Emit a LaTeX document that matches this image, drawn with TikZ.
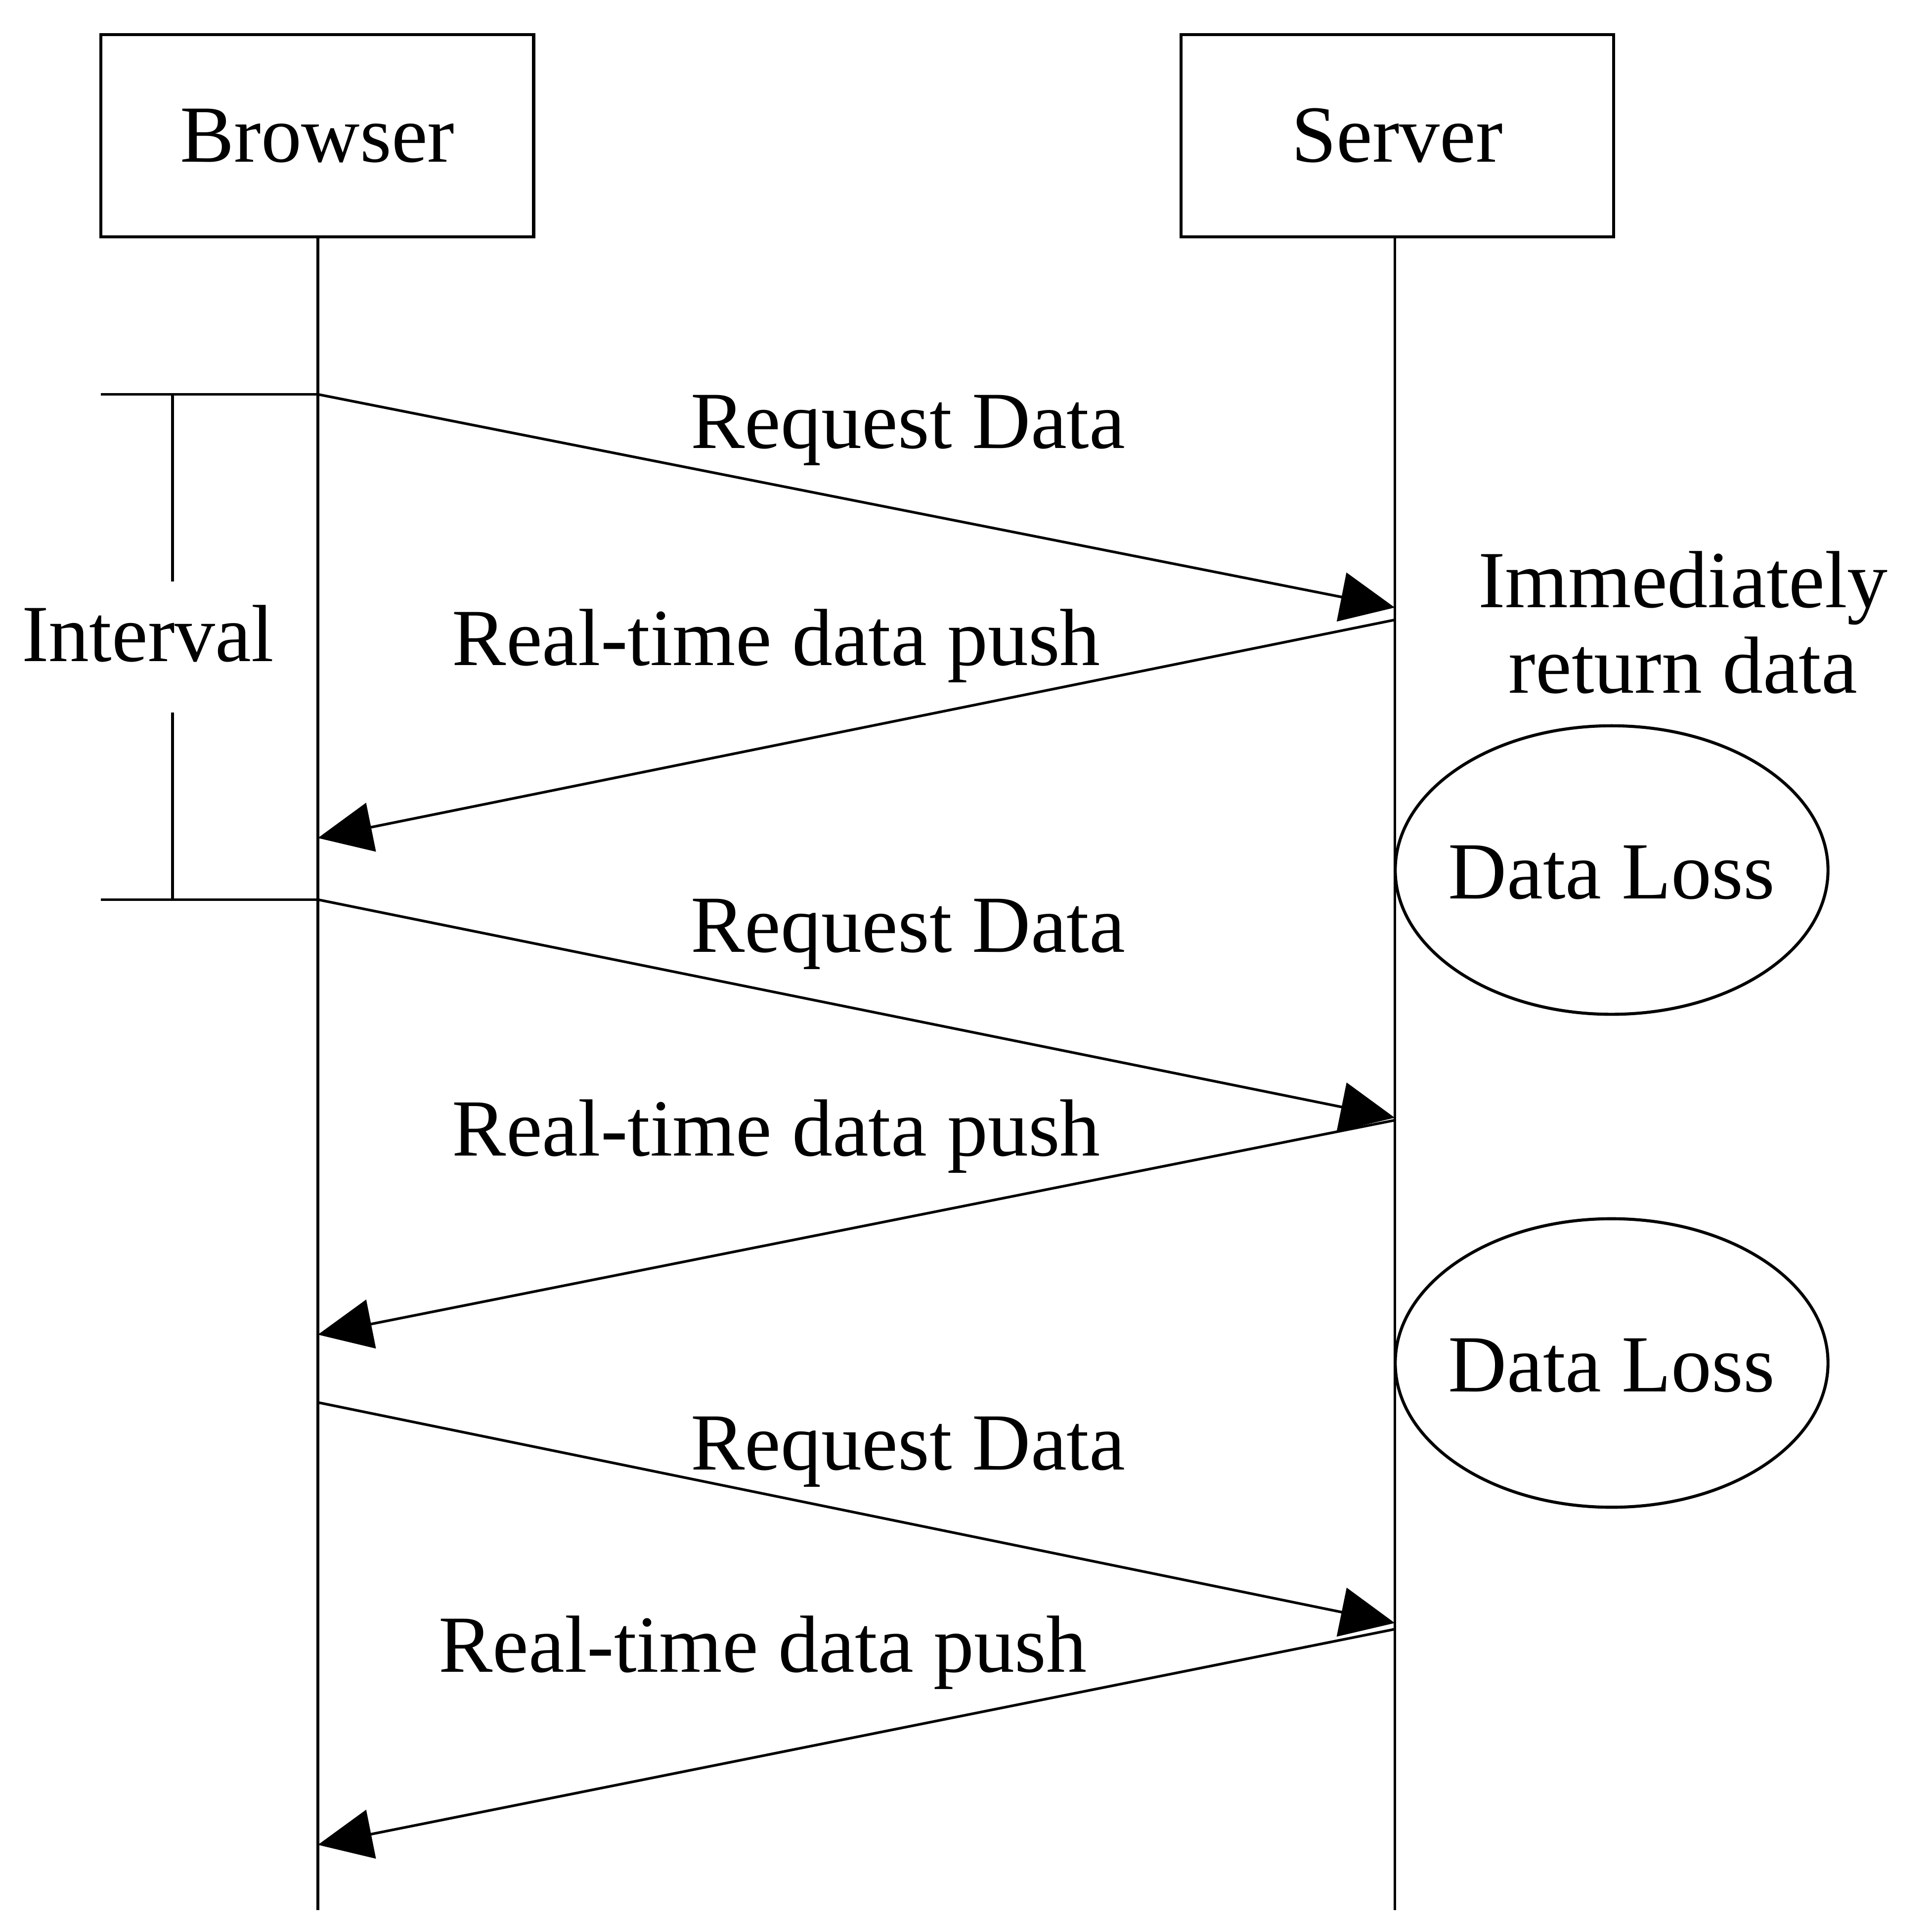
\documentclass[tikz,border=0pt]{standalone}
\usepackage{fontspec}
\setmainfont{Liberation Serif}
\usetikzlibrary{arrows.meta,shapes.geometric}
\begin{document}
\begin{tikzpicture}[x=0.01cm,y=-0.01cm,
  line width=0.6pt,
  lbl/.style={font=\fontsize{18.7}{22}\selectfont, inner sep=0pt},
  actor/.style={draw, line width=0.7pt, minimum width=3.51cm, minimum height=1.64cm, font=\fontsize{18.7}{22}\selectfont},
  loss/.style={font=\fontsize{18.7}{22}\selectfont, inner sep=0pt},
  lossring/.style={line width=0.7pt},
  msg/.style={-{Triangle[length=0.44cm,width=0.40cm]}}]
\useasboundingbox (0,0) rectangle (1568,1556.8);
\node[actor] (browser) at (257.5,110) {Browser};
\node[actor] (server) at (1134,110) {Server};
\coordinate (bend) at (258,1550);
\coordinate (send) at (1132,1550);
\draw (browser.south -| bend) -- (bend);
\draw (server.south -| send) -- (send);
% message endpoints
\coordinate (b1) at (258,320); \coordinate (s1) at (1132,493);
\coordinate (s2) at (1132,503); \coordinate (b2) at (258,680);
\coordinate (b3) at (258,730); \coordinate (s3) at (1132,907);
\coordinate (s4) at (1132,909); \coordinate (b4) at (258,1083);
\coordinate (b5) at (258,1138); \coordinate (s5) at (1132,1317);
\coordinate (s6) at (1132,1322); \coordinate (b6) at (258,1497);
\draw[msg] (b1) -- (s1);
\draw[msg] (s2) -- (b2);
\draw[msg] (b3) -- (s3);
\draw[msg] (s4) -- (b4);
\draw[msg] (b5) -- (s5);
\draw[msg] (s6) -- (b6);
\node[lbl] (l1) at (737,349) {Request Data};
\node[lbl] (l2) at (630,524) {Real-time data push};
\node[lbl] (l3) at (737,758) {Request Data};
\node[lbl] (l4) at (630,922) {Real-time data push};
\node[lbl] (l5) at (737,1178) {Request Data};
\node[lbl] (l6) at (619,1341) {Real-time data push};
\node[lbl, align=center] (imm) at (1366,505) {Immediately\\[-0.08cm]return data};
\node[loss] (loss1) at (1308,708) {Data Loss};
\node[loss] (loss2) at (1308,1108) {Data Loss};
\draw[lossring] (1308,706) ellipse [x radius=1.755cm, y radius=1.17cm];
\draw[lossring] (1308,1106) ellipse [x radius=1.755cm, y radius=1.17cm];
% interval bracket
\coordinate (it) at (82,320); \coordinate (ib) at (82,730);
\coordinate (itm) at (140,320); \coordinate (ibm) at (140,730);
\draw (it) -- (b1);
\draw (ib) -- (b3);
\node[lbl] (interval) at (120,514) {Interval};
\coordinate (iu) at (140,472); \coordinate (il) at (140,578);
\draw (itm) -- (iu);
\draw (il) -- (ibm);
\end{tikzpicture}
\end{document}
